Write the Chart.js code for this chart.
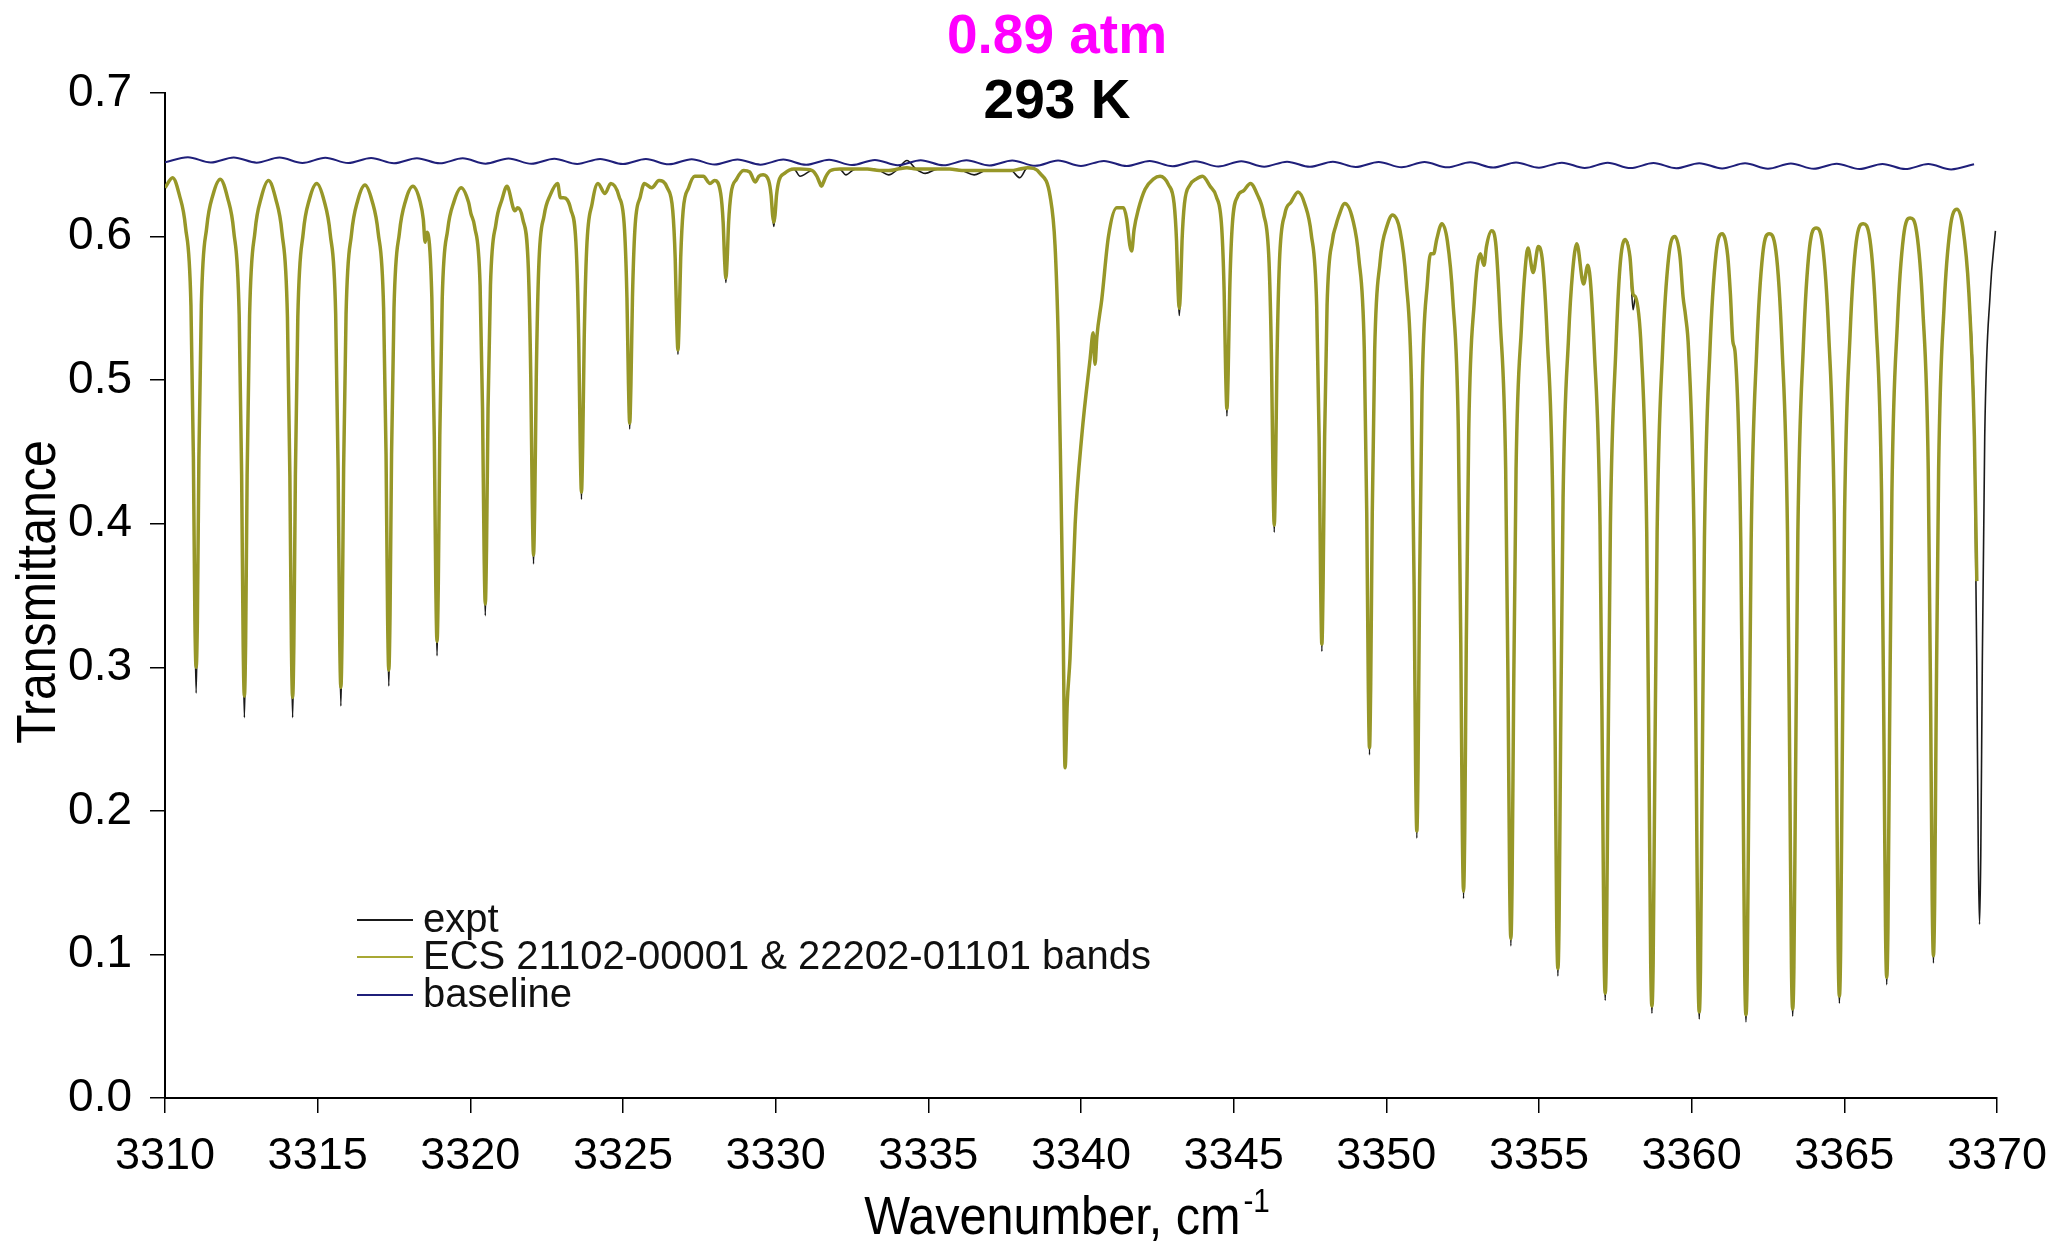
<!DOCTYPE html>
<html>
<head>
<meta charset="utf-8">
<title>Transmittance, 0.89 atm, 293 K</title>
<script src="https://cdn.jsdelivr.net/npm/chart.js@4.4.1/dist/chart.umd.min.js"></script>
<style>
  html, body { margin: 0; padding: 0; background: #fff; }
  #wrap { width: 2064px; height: 1245px; }
</style>
</head>
<body>
<div id="wrap"><canvas id="spectrum" width="2064" height="1245" style="width:2064px;height:1245px"></canvas></div>
<script>
// header labels
const PRESSURE_LABEL = '0.89 atm';
const TEMP_LABEL = '293 K';

// wavenumber grid (cm-1), one row per absorption line + the arch top after it
const wavenumber = [
  3310.00, 3310.25,
  3310.47, 3310.67, 3310.85, 3310.93, 3310.98, 3311.02, 3311.06, 3311.11, 3311.19, 3311.37, 3311.57, 3311.81,
  3312.05, 3312.25, 3312.43, 3312.51, 3312.56, 3312.60, 3312.64, 3312.69, 3312.77, 3312.95, 3313.15, 3313.39,
  3313.63, 3313.83, 3314.01, 3314.09, 3314.14, 3314.18, 3314.22, 3314.27, 3314.35, 3314.53, 3314.73, 3314.97,
  3315.21, 3315.41, 3315.59, 3315.67, 3315.72, 3315.76, 3315.80, 3315.85, 3315.93, 3316.11, 3316.31, 3316.55,
  3316.78, 3316.98, 3317.16, 3317.24, 3317.29, 3317.33, 3317.37, 3317.42, 3317.50, 3317.68, 3317.88, 3318.12,
  3318.36, 3318.46, 3318.52, 3318.58, 3318.74, 3318.82, 3318.87, 3318.91, 3318.95, 3319.00, 3319.08, 3319.26, 3319.46, 3319.70,
  3319.94, 3320.02, 3320.14, 3320.32, 3320.40, 3320.45, 3320.49, 3320.53, 3320.58, 3320.66, 3320.84, 3321.04, 3321.20, 3321.46, 3321.55,
  3321.72, 3321.90, 3321.98, 3322.03, 3322.07, 3322.11, 3322.16, 3322.24, 3322.42, 3322.62, 3322.86, 3322.95, 3323.05,
  3323.29, 3323.47, 3323.55, 3323.60, 3323.64, 3323.68, 3323.73, 3323.81, 3323.99, 3324.18, 3324.41, 3324.60,
  3324.87, 3325.05, 3325.13, 3325.18, 3325.22, 3325.26, 3325.31, 3325.39, 3325.57, 3325.70, 3325.94, 3326.18,
  3326.45, 3326.63, 3326.71, 3326.76, 3326.80, 3326.84, 3326.89, 3326.97, 3327.15, 3327.35, 3327.63, 3327.85, 3328.00,
  3328.20, 3328.28, 3328.33, 3328.37, 3328.41, 3328.46, 3328.54, 3328.72, 3328.95, 3329.15, 3329.33, 3329.45,
  3329.59, 3329.77, 3329.85, 3329.90, 3329.94, 3329.98, 3330.03, 3330.11, 3330.29, 3330.60, 3330.80,
  3331.20, 3331.35, 3331.45, 3331.50, 3331.55, 3331.65, 3331.80,
  3332.10, 3332.30, 3332.60, 3333.00, 3333.40, 3333.70, 3334.00, 3334.30, 3334.60, 3334.90, 3335.30, 3335.70, 3336.10, 3336.50, 3336.90, 3337.30, 3337.70, 3338.00, 3338.25,
  3338.66, 3338.99, 3339.15, 3339.26, 3339.34, 3339.41, 3339.48, 3339.55, 3339.64, 3339.81, 3340.03, 3340.30, 3340.40, 3340.46, 3340.52, 3340.68, 3340.90, 3341.17, 3341.39, 3341.50, 3341.60, 3341.66, 3341.74, 3341.88, 3342.10, 3342.37, 3342.59,
  3342.87, 3343.05, 3343.13, 3343.18, 3343.22, 3343.26, 3343.31, 3343.39, 3343.57, 3343.77, 3343.98,
  3344.23, 3344.43, 3344.61, 3344.69, 3344.74, 3344.78, 3344.82, 3344.87, 3344.95, 3345.13, 3345.33, 3345.55,
  3345.78, 3345.98, 3346.16, 3346.24, 3346.29, 3346.33, 3346.37, 3346.42, 3346.50, 3346.68, 3346.88, 3347.11,
  3347.34, 3347.54, 3347.72, 3347.80, 3347.85, 3347.89, 3347.93, 3347.98, 3348.06, 3348.24, 3348.34, 3348.44, 3348.64,
  3348.90, 3349.10, 3349.28, 3349.36, 3349.41, 3349.45, 3349.49, 3349.54, 3349.62, 3349.80, 3349.88, 3350.00, 3350.20,
  3350.45, 3350.65, 3350.83, 3350.91, 3350.96, 3351.00, 3351.04, 3351.09, 3351.17, 3351.35, 3351.45, 3351.55, 3351.65, 3351.82,
  3352.00, 3352.18, 3352.36, 3352.44, 3352.49, 3352.53, 3352.57, 3352.62, 3352.70, 3352.88, 3353.08, 3353.20, 3353.28, 3353.45,
  3353.58, 3353.73, 3353.91, 3353.99, 3354.04, 3354.08, 3354.12, 3354.17, 3354.25, 3354.43, 3354.55, 3354.64, 3354.81, 3354.98,
  3355.12, 3355.27, 3355.45, 3355.53, 3355.58, 3355.62, 3355.66, 3355.71, 3355.79, 3355.97, 3356.10, 3356.24, 3356.46, 3356.60,
  3356.82, 3357.00, 3357.08, 3357.13, 3357.17, 3357.21, 3357.26, 3357.34, 3357.52, 3357.65, 3357.82, 3357.98, 3358.08, 3358.16,
  3358.35, 3358.53, 3358.61, 3358.66, 3358.70, 3358.74, 3358.79, 3358.87, 3359.05, 3359.25, 3359.45, 3359.62, 3359.72, 3359.80,
  3359.90, 3360.08, 3360.16, 3360.21, 3360.25, 3360.29, 3360.34, 3360.42, 3360.60, 3360.80, 3361.00, 3361.18, 3361.27, 3361.35,
  3361.43, 3361.61, 3361.69, 3361.74, 3361.78, 3361.82, 3361.87, 3361.95, 3362.13, 3362.33, 3362.54,
  3362.76, 3362.96, 3363.14, 3363.22, 3363.27, 3363.31, 3363.35, 3363.40, 3363.48, 3363.66, 3363.86, 3364.08,
  3364.29, 3364.49, 3364.67, 3364.75, 3364.80, 3364.84, 3364.88, 3364.93, 3365.01, 3365.19, 3365.39, 3365.62,
  3365.84, 3366.04, 3366.22, 3366.30, 3366.35, 3366.39, 3366.43, 3366.48, 3366.56, 3366.74, 3366.94, 3367.16,
  3367.37, 3367.57, 3367.75, 3367.83, 3367.88, 3367.92, 3367.96, 3368.01, 3368.09, 3368.27, 3368.47, 3368.69,
  3368.88, 3369.08, 3369.26, 3369.34, 3369.39, 3369.43, 3369.47, 3369.52, 3369.60, 3369.78, 3369.95
];

// measured transmittance
const exptT = [
  0.634, 0.641,
  0.629, 0.607, 0.552, 0.446, 0.332, 0.282, 0.332, 0.446, 0.552, 0.607, 0.629, 0.640,
  0.627, 0.604, 0.545, 0.434, 0.316, 0.265, 0.316, 0.434, 0.545, 0.604, 0.627, 0.639,
  0.626, 0.603, 0.544, 0.433, 0.316, 0.265, 0.316, 0.433, 0.544, 0.603, 0.626, 0.637,
  0.625, 0.602, 0.546, 0.438, 0.323, 0.273, 0.323, 0.438, 0.546, 0.602, 0.625, 0.636,
  0.625, 0.603, 0.550, 0.448, 0.336, 0.287, 0.336, 0.448, 0.550, 0.603, 0.625, 0.635,
  0.624, 0.612, 0.596, 0.603, 0.557, 0.461, 0.356, 0.308, 0.356, 0.461, 0.557, 0.605, 0.624, 0.634,
  0.624, 0.616, 0.607, 0.566, 0.480, 0.382, 0.336, 0.382, 0.480, 0.566, 0.609, 0.626, 0.635, 0.618, 0.620,
  0.612, 0.578, 0.502, 0.414, 0.372, 0.414, 0.502, 0.578, 0.615, 0.629, 0.637, 0.627, 0.627,
  0.619, 0.591, 0.529, 0.454, 0.417, 0.454, 0.529, 0.591, 0.623, 0.637, 0.630, 0.637,
  0.628, 0.605, 0.557, 0.497, 0.466, 0.497, 0.557, 0.605, 0.628, 0.637, 0.634, 0.639,
  0.634, 0.618, 0.585, 0.541, 0.518, 0.541, 0.585, 0.618, 0.634, 0.642, 0.642, 0.637, 0.639,
  0.630, 0.610, 0.583, 0.568, 0.583, 0.610, 0.630, 0.640, 0.646, 0.645, 0.638, 0.642,
  0.643, 0.639, 0.629, 0.615, 0.607, 0.615, 0.629, 0.639, 0.644, 0.647, 0.642,
  0.646, 0.642, 0.637, 0.635, 0.637, 0.642, 0.646,
  0.647, 0.643, 0.647, 0.647, 0.646, 0.643, 0.647, 0.653, 0.647, 0.644, 0.647, 0.647, 0.646, 0.643, 0.646, 0.646, 0.646, 0.641, 0.648,
  0.644, 0.628, 0.594, 0.525, 0.431, 0.338, 0.230, 0.275, 0.306, 0.400, 0.462, 0.515, 0.533, 0.511, 0.530, 0.556, 0.600, 0.620, 0.620, 0.612, 0.594, 0.590, 0.605, 0.619, 0.633, 0.640, 0.642,
  0.636, 0.623, 0.597, 0.563, 0.545, 0.563, 0.597, 0.623, 0.636, 0.640, 0.642,
  0.635, 0.628, 0.606, 0.561, 0.504, 0.475, 0.504, 0.561, 0.606, 0.628, 0.632, 0.637,
  0.629, 0.616, 0.582, 0.514, 0.433, 0.394, 0.433, 0.514, 0.582, 0.616, 0.624, 0.631,
  0.622, 0.602, 0.552, 0.460, 0.358, 0.311, 0.358, 0.460, 0.552, 0.598, 0.607, 0.614, 0.623,
  0.612, 0.585, 0.521, 0.407, 0.289, 0.239, 0.289, 0.407, 0.521, 0.583, 0.596, 0.606, 0.615,
  0.604, 0.569, 0.491, 0.358, 0.231, 0.181, 0.231, 0.358, 0.491, 0.569, 0.588, 0.588, 0.598, 0.609,
  0.597, 0.556, 0.465, 0.317, 0.187, 0.139, 0.187, 0.317, 0.465, 0.554, 0.588, 0.580, 0.593, 0.604,
  0.596, 0.542, 0.438, 0.279, 0.150, 0.106, 0.150, 0.279, 0.438, 0.538, 0.578, 0.592, 0.575, 0.593,
  0.582, 0.530, 0.418, 0.252, 0.125, 0.085, 0.125, 0.252, 0.418, 0.530, 0.575, 0.595, 0.567, 0.580,
  0.518, 0.399, 0.228, 0.105, 0.068, 0.105, 0.228, 0.399, 0.522, 0.578, 0.598, 0.586, 0.549, 0.558,
  0.521, 0.394, 0.216, 0.094, 0.059, 0.094, 0.216, 0.394, 0.521, 0.586, 0.600, 0.586, 0.558, 0.545,
  0.521, 0.390, 0.209, 0.089, 0.055, 0.089, 0.209, 0.390, 0.521, 0.588, 0.602, 0.587, 0.560, 0.527,
  0.518, 0.388, 0.206, 0.086, 0.053, 0.086, 0.206, 0.388, 0.520, 0.588, 0.602,
  0.590, 0.524, 0.394, 0.213, 0.091, 0.057, 0.091, 0.213, 0.394, 0.524, 0.592, 0.606,
  0.594, 0.532, 0.407, 0.228, 0.103, 0.066, 0.103, 0.228, 0.407, 0.532, 0.596, 0.609,
  0.598, 0.540, 0.422, 0.248, 0.119, 0.079, 0.119, 0.248, 0.422, 0.540, 0.600, 0.613,
  0.603, 0.550, 0.438, 0.269, 0.137, 0.094, 0.137, 0.269, 0.438, 0.552, 0.606, 0.619,
  0.607, 0.561, 0.461, 0.301, 0.168, 0.121, 0.168, 0.301, 0.461, 0.561, 0.604
];

// ECS model (21102-00001 & 22202-01101 bands), stops before the last line
const modelT = [
  0.634, 0.641,
  0.629, 0.607, 0.552, 0.446, 0.332, 0.300, 0.332, 0.446, 0.552, 0.607, 0.629, 0.640,
  0.627, 0.604, 0.545, 0.434, 0.316, 0.280, 0.316, 0.434, 0.545, 0.604, 0.627, 0.639,
  0.626, 0.603, 0.544, 0.433, 0.316, 0.279, 0.316, 0.433, 0.544, 0.603, 0.626, 0.637,
  0.625, 0.602, 0.546, 0.438, 0.323, 0.286, 0.323, 0.438, 0.546, 0.602, 0.625, 0.636,
  0.625, 0.603, 0.550, 0.448, 0.336, 0.298, 0.336, 0.448, 0.550, 0.603, 0.625, 0.635,
  0.624, 0.612, 0.596, 0.603, 0.557, 0.461, 0.356, 0.318, 0.356, 0.461, 0.557, 0.605, 0.624, 0.634,
  0.624, 0.616, 0.607, 0.566, 0.480, 0.382, 0.344, 0.382, 0.480, 0.566, 0.609, 0.626, 0.635, 0.618, 0.620,
  0.612, 0.578, 0.502, 0.414, 0.378, 0.414, 0.502, 0.578, 0.615, 0.629, 0.637, 0.627, 0.627,
  0.619, 0.591, 0.529, 0.454, 0.422, 0.454, 0.529, 0.591, 0.623, 0.637, 0.630, 0.637,
  0.628, 0.605, 0.557, 0.497, 0.470, 0.497, 0.557, 0.605, 0.628, 0.637, 0.634, 0.639,
  0.634, 0.618, 0.585, 0.541, 0.521, 0.541, 0.585, 0.618, 0.634, 0.642, 0.642, 0.637, 0.639,
  0.630, 0.610, 0.583, 0.571, 0.583, 0.610, 0.630, 0.640, 0.646, 0.645, 0.638, 0.642,
  0.643, 0.639, 0.629, 0.615, 0.610, 0.615, 0.629, 0.639, 0.644, 0.647, 0.647,
  0.646, 0.642, 0.637, 0.635, 0.637, 0.642, 0.646,
  0.647, 0.647, 0.647, 0.647, 0.646, 0.646, 0.647, 0.648, 0.647, 0.647, 0.647, 0.647, 0.646, 0.646, 0.646, 0.646, 0.646, 0.647, 0.648,
  0.644, 0.628, 0.594, 0.525, 0.431, 0.338, 0.230, 0.275, 0.306, 0.400, 0.462, 0.515, 0.533, 0.511, 0.530, 0.556, 0.600, 0.620, 0.620, 0.612, 0.594, 0.590, 0.605, 0.619, 0.633, 0.640, 0.642,
  0.636, 0.623, 0.597, 0.563, 0.550, 0.563, 0.597, 0.623, 0.636, 0.640, 0.642,
  0.635, 0.628, 0.606, 0.561, 0.504, 0.480, 0.504, 0.561, 0.606, 0.628, 0.632, 0.637,
  0.629, 0.616, 0.582, 0.514, 0.433, 0.399, 0.433, 0.514, 0.582, 0.616, 0.624, 0.631,
  0.622, 0.602, 0.552, 0.460, 0.358, 0.316, 0.358, 0.460, 0.552, 0.598, 0.607, 0.614, 0.623,
  0.612, 0.585, 0.521, 0.407, 0.289, 0.244, 0.289, 0.407, 0.521, 0.583, 0.596, 0.606, 0.615,
  0.604, 0.569, 0.491, 0.358, 0.231, 0.186, 0.231, 0.358, 0.491, 0.569, 0.588, 0.588, 0.598, 0.609,
  0.597, 0.556, 0.465, 0.317, 0.187, 0.144, 0.187, 0.317, 0.465, 0.554, 0.588, 0.580, 0.593, 0.604,
  0.596, 0.542, 0.438, 0.279, 0.150, 0.111, 0.150, 0.279, 0.438, 0.538, 0.578, 0.592, 0.575, 0.593,
  0.582, 0.530, 0.418, 0.252, 0.125, 0.090, 0.125, 0.252, 0.418, 0.530, 0.575, 0.595, 0.567, 0.580,
  0.518, 0.399, 0.228, 0.105, 0.073, 0.105, 0.228, 0.399, 0.522, 0.578, 0.598, 0.586, 0.560, 0.558,
  0.521, 0.394, 0.216, 0.094, 0.064, 0.094, 0.216, 0.394, 0.521, 0.586, 0.600, 0.586, 0.558, 0.545,
  0.521, 0.390, 0.209, 0.089, 0.060, 0.089, 0.209, 0.390, 0.521, 0.588, 0.602, 0.587, 0.560, 0.527,
  0.518, 0.388, 0.206, 0.086, 0.058, 0.086, 0.206, 0.388, 0.520, 0.588, 0.602,
  0.590, 0.524, 0.394, 0.213, 0.091, 0.062, 0.091, 0.213, 0.394, 0.524, 0.592, 0.606,
  0.594, 0.532, 0.407, 0.228, 0.103, 0.071, 0.103, 0.228, 0.407, 0.532, 0.596, 0.609,
  0.598, 0.540, 0.422, 0.248, 0.119, 0.084, 0.119, 0.248, 0.422, 0.540, 0.600, 0.613,
  0.603, 0.550, 0.438, 0.269, 0.137, 0.099, 0.137, 0.269, 0.438, 0.552, 0.606, 0.619,
  0.607, 0.561, 0.461, 0.360, null, null, null, null, null, null, null
];

// baseline (etalon ripple), own grid
const baseWavenumber = [
  3310.00, 3310.75, 3311.50, 3312.25, 3313.00, 3313.75, 3314.50, 3315.25, 3316.00, 3316.75,
  3317.50, 3318.25, 3319.00, 3319.75, 3320.50, 3321.25, 3322.00, 3322.75, 3323.50, 3324.25,
  3325.00, 3325.75, 3326.50, 3327.25, 3328.00, 3328.75, 3329.50, 3330.25, 3331.00, 3331.75,
  3332.50, 3333.25, 3334.00, 3334.75, 3335.50, 3336.25, 3337.00, 3337.75, 3338.50, 3339.25,
  3340.00, 3340.75, 3341.50, 3342.25, 3343.00, 3343.75, 3344.50, 3345.25, 3346.00, 3346.75,
  3347.50, 3348.25, 3349.00, 3349.75, 3350.50, 3351.25, 3352.00, 3352.75, 3353.50, 3354.25,
  3355.00, 3355.75, 3356.50, 3357.25, 3358.00, 3358.75, 3359.50, 3360.25, 3361.00, 3361.75,
  3362.50, 3363.25, 3364.00, 3364.75, 3365.50, 3366.25, 3367.00, 3367.75, 3368.50, 3369.25
];
const baselineT = [
  0.6517, 0.6552, 0.6516, 0.6551, 0.6515, 0.6550, 0.6513, 0.6549, 0.6512, 0.6547,
  0.6511, 0.6546, 0.6510, 0.6545, 0.6508, 0.6544, 0.6507, 0.6542, 0.6506, 0.6541,
  0.6505, 0.6540, 0.6503, 0.6539, 0.6502, 0.6537, 0.6501, 0.6536, 0.6500, 0.6535,
  0.6498, 0.6534, 0.6497, 0.6532, 0.6496, 0.6531, 0.6495, 0.6530, 0.6493, 0.6529,
  0.6492, 0.6527, 0.6491, 0.6526, 0.6490, 0.6525, 0.6488, 0.6524, 0.6487, 0.6522,
  0.6486, 0.6521, 0.6485, 0.6520, 0.6483, 0.6519, 0.6482, 0.6517, 0.6481, 0.6516,
  0.6480, 0.6515, 0.6478, 0.6514, 0.6477, 0.6512, 0.6476, 0.6511, 0.6475, 0.6510,
  0.6473, 0.6509, 0.6472, 0.6507, 0.6471, 0.6506, 0.6470, 0.6505, 0.6468, 0.6504
];

const FONT = 'Arial, "Liberation Sans", Helvetica, sans-serif';

if (wavenumber.length !== exptT.length || wavenumber.length !== modelT.length) {
  throw new Error('length mismatch: ' + wavenumber.length + ' / ' + exptT.length + ' / ' + modelT.length);
}
if (baseWavenumber.length !== baselineT.length) {
  throw new Error('baseline length mismatch');
}

function toPoints(xs, ys) {
  return xs.map((x, i) => ({ x: x, y: ys[i] }));
}

// text drawn with a horizontal squeeze, the source figure uses a narrow face
function squeezedText(ctx, text, x, y, sx) {
  ctx.save();
  ctx.translate(x, y);
  ctx.scale(sx, 1);
  ctx.fillText(text, 0, 0);
  ctx.restore();
}

// extra text: header, axis titles, legend
const annotations = {
  id: 'annotations',
  afterDraw(chart) {
    const ctx = chart.ctx;
    ctx.save();
    ctx.textBaseline = 'alphabetic';
    ctx.textAlign = 'center';
    ctx.font = 'bold 55px ' + FONT;
    ctx.fillStyle = '#ff00ff';
    ctx.fillText(PRESSURE_LABEL, 1057, 53);
    ctx.fillStyle = '#000';
    ctx.fillText(TEMP_LABEL, 1057, 118);

    // y title
    ctx.save();
    ctx.translate(55, 592);
    ctx.rotate(-Math.PI / 2);
    ctx.font = '56px ' + FONT;
    squeezedText(ctx, 'Transmittance', 0, 0, 0.86);
    ctx.restore();

    // x title with superscript
    const main = 'Wavenumber, cm';
    const sup = '-1';
    const sx = 0.9;
    ctx.font = '54px ' + FONT;
    const w1 = ctx.measureText(main).width * sx;
    ctx.font = '33px ' + FONT;
    const w2 = ctx.measureText(sup).width * sx;
    const x0 = 1067 - (w1 + w2 + 3) / 2;
    ctx.textAlign = 'left';
    ctx.font = '54px ' + FONT;
    squeezedText(ctx, main, x0, 1234, sx);
    ctx.font = '33px ' + FONT;
    squeezedText(ctx, sup, x0 + w1 + 3, 1212, sx);

    // legend
    const rows = [0, 1, 2];
    const rowY = [920, 957, 995];
    ctx.font = '40px ' + FONT;
    ctx.textBaseline = 'middle';
    rows.forEach((di, k) => {
      const ds = chart.data.datasets[di];
      ctx.strokeStyle = ds.legendColor || ds.borderColor;
      ctx.lineWidth = 2;
      ctx.beginPath();
      ctx.moveTo(357, rowY[k]);
      ctx.lineTo(413, rowY[k]);
      ctx.stroke();
      ctx.fillStyle = '#111';
      ctx.fillText(ds.label, 423, rowY[k] + 1);
    });
    ctx.restore();
  }
};

const axisGrid = {
  drawOnChartArea: false,
  drawTicks: true,
  tickLength: 15,
  color: '#000',
  tickColor: '#000',
  lineWidth: 1.5
};
const axisBorder = { display: true, color: '#000', width: 2 };

new Chart(document.getElementById('spectrum'), {
  type: 'line',
  data: {
    datasets: [
      {
        label: 'expt',
        data: toPoints(wavenumber, exptT),
        borderColor: '#1a1a1a',
        borderWidth: 1.6,
        pointRadius: 0,
        cubicInterpolationMode: 'monotone',
        order: 2
      },
      {
        label: 'ECS 21102-00001 & 22202-01101 bands',
        data: toPoints(wavenumber, modelT),
        borderColor: '#979728',
        legendColor: '#a8a834',
        borderWidth: 3.5,
        pointRadius: 0,
        cubicInterpolationMode: 'monotone',
        spanGaps: false,
        order: 1
      },
      {
        label: 'baseline',
        data: toPoints(baseWavenumber, baselineT),
        borderColor: '#1f1f7a',
        borderWidth: 2,
        pointRadius: 0,
        cubicInterpolationMode: 'monotone',
        order: 0
      }
    ]
  },
  options: {
    responsive: false,
    animation: false,
    events: [],
    layout: { padding: { left: 0, right: 67, top: 93, bottom: 0 } },
    plugins: {
      legend: { display: false },
      title: { display: false },
      tooltip: { enabled: false }
    },
    scales: {
      x: {
        type: 'linear',
        min: 3310,
        max: 3370,
        ticks: {
          stepSize: 5,
          autoSkip: false,
          maxRotation: 0,
          color: '#000',
          padding: 17,
          font: { family: FONT, size: 45 },
          callback: (v) => String(v)
        },
        grid: axisGrid,
        border: axisBorder,
        afterFit: (s) => { s.height = 147; }
      },
      y: {
        min: 0,
        max: 0.7,
        ticks: {
          stepSize: 0.1,
          color: '#000',
          padding: 18,
          font: { family: FONT, size: 46 },
          callback: (v) => v.toFixed(1)
        },
        grid: axisGrid,
        border: axisBorder,
        afterFit: (s) => { s.width = 165; }
      }
    }
  },
  plugins: [annotations]
});
</script>
</body>
</html>
